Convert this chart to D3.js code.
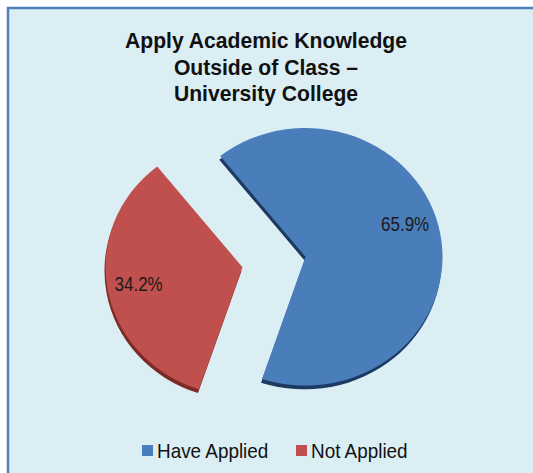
<!DOCTYPE html>
<html>
<head>
<meta charset="utf-8">
<script src="https://cdn.jsdelivr.net/npm/d3@7"></script>
<style>
  body { margin: 0; background: #ffffff; }
  svg { display: block; }
</style>
</head>
<body>
<div id="chart"></div>
<script>
// Data
var titleLines = ["Apply Academic Knowledge", "Outside of Class \u2013", "University College"];
var categories = ["Have Applied", "Not Applied"];
var values = [65.9, 34.2];
var labels = ["65.9%", "34.2%"];
var colors = ["#4a7ebb", "#c0504d"];
var edgeColors = ["#1d3a62", "#7e2a28"];

// Setup
var width = 533, height = 473;
var cx = 274, cy = 262, radius = 137, explode = 32, tilt = 0.94;
var startDeg = -38.5;
var font = "'Liberation Sans', Arial, sans-serif";

var svg = d3.select("#chart")
    .append("svg")
    .attr("width", width)
    .attr("height", height);

// chart area frame (cropped at right and bottom)
svg.append("rect")
    .attr("x", 8).attr("y", 8)
    .attr("width", width + 20).attr("height", height + 20)
    .attr("fill", "#dbeef4")
    .attr("stroke", "#4f81bd")
    .attr("stroke-width", 2.5);

// narrow text helper: draws text squeezed horizontally
function narrowText(g, x, y, sx) {
    return g.append("text")
        .attr("transform", "translate(" + x + "," + y + ") scale(" + sx + ",1)");
}

// Title
titleLines.forEach(function (t, i) {
    narrowText(svg, 266, 48 + i * 26.5, 0.96)
        .attr("text-anchor", "middle")
        .attr("font-family", font)
        .attr("font-weight", "bold")
        .attr("font-size", "22px")
        .attr("fill", "#111")
        .text(t);
});

// Pie
var pie = d3.pie()
    .sort(null)
    .startAngle(startDeg * Math.PI / 180)
    .endAngle((startDeg + 360) * Math.PI / 180);

var arcs = pie(values);
var arc = d3.arc().innerRadius(0).outerRadius(radius);

function offset(d) {
    var mid = (d.startAngle + d.endAngle) / 2;
    return [Math.sin(mid) * explode, -Math.cos(mid) * explode];
}

var pieG = svg.append("g")
    .attr("transform", "translate(" + cx + "," + cy + ") scale(1," + tilt + ")");

var slices = pieG.selectAll("g")
    .data(arcs)
    .enter()
    .append("g")
    .attr("transform", function (d) { return "translate(" + offset(d) + ")"; });

// depth edge
slices.append("path")
    .attr("d", arc)
    .attr("transform", "translate(-1,4)")
    .attr("fill", function (d, i) { return edgeColors[i]; });

slices.append("path")
    .attr("d", arc)
    .attr("fill", function (d, i) { return colors[i]; });

// Labels (outside the tilted group so text stays upright)
var labelR = radius * 0.77;
arcs.forEach(function (d, i) {
    var o = offset(d);
    var mid = (d.startAngle + d.endAngle) / 2 - (i === 0 ? 0.16 : 0);
    var lx = cx + o[0] + Math.sin(mid) * labelR;
    var ly = cy + (o[1] - Math.cos(mid) * labelR) * tilt;
    narrowText(svg, lx, ly + 7, 0.87)
        .attr("text-anchor", "middle")
        .attr("font-family", font)
        .attr("font-size", "19.5px")
        .attr("fill", "#1a1a1a")
        .text(labels[i]);
});

// Legend
var legendX = [142, 296];
categories.forEach(function (c, i) {
    svg.append("rect")
        .attr("x", legendX[i]).attr("y", 445)
        .attr("width", 11).attr("height", 11)
        .attr("fill", colors[i]);
    narrowText(svg, legendX[i] + 15, 458, 0.9)
        .attr("font-family", font)
        .attr("font-size", "21px")
        .attr("fill", "#111")
        .text(c);
});
</script>
</body>
</html>
